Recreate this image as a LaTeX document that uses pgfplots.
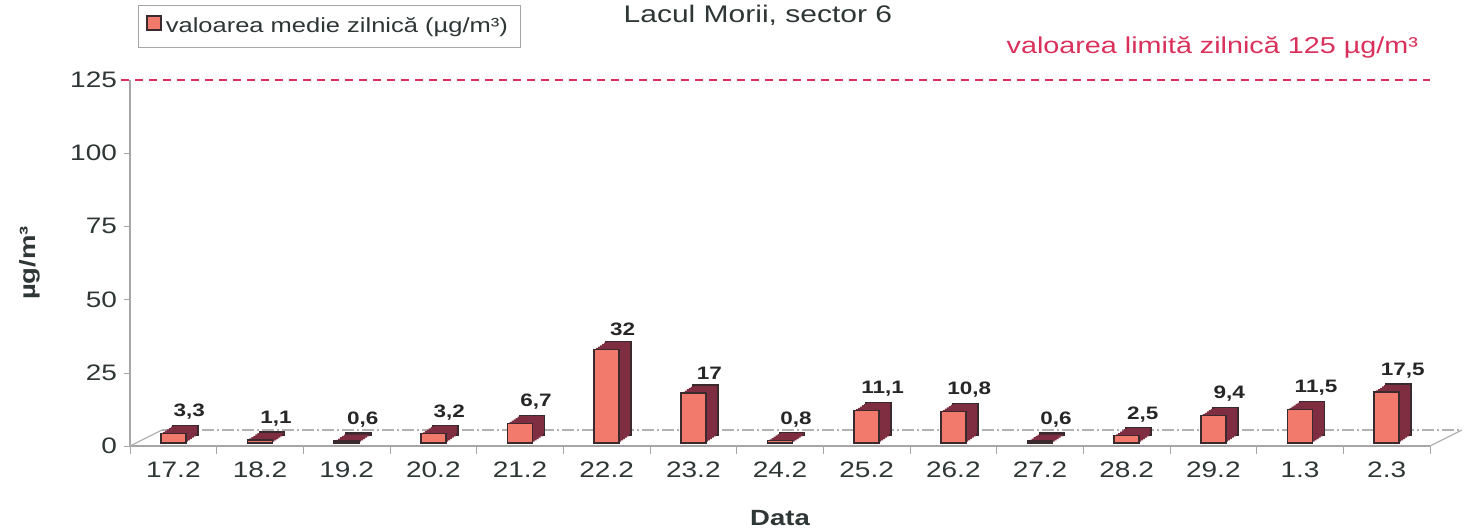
\documentclass[border=0pt]{standalone}
\usepackage{pgfplots}
\usepackage{pgfplotstable}
\pgfplotsset{compat=1.18}
\usepackage{fontspec}
\setmainfont{Liberation Sans}[FakeStretch=1.25]
\definecolor{barfront}{HTML}{F27A6C}
\definecolor{barside}{HTML}{7E2E40}
\definecolor{baredge}{HTML}{3A2A2E}
\definecolor{txt}{HTML}{2E3636}
\definecolor{limred}{HTML}{D9315B}
\pgfplotstableread{
x val
0 3.3
1 1.1
2 0.6
3 3.2
4 6.7
5 32
6 17
7 0.8
8 11.1
9 10.8
10 0.6
11 2.5
12 9.4
13 11.5
14 17.5
}\pmdata
\begin{document}
\begin{tikzpicture}
\useasboundingbox (-65pt,-42.5pt) rectangle (668.5pt,223pt);
\begin{axis}[
    scale only axis, width=650pt, height=183pt,
    at={(0,0)}, anchor=south west,
    xmin=-0.5, xmax=14.5, ymin=0, ymax=125,
    axis lines*=left, axis line style={gray!70, line width=0.8pt},
    clip=false,
    bar width=12.5pt,
    ytick={0,25,...,125},
    xtick={0,...,14},
    xticklabels={17.2,18.2,19.2,20.2,21.2,22.2,23.2,24.2,25.2,26.2,27.2,28.2,29.2,1.3,2.3},
    minor xtick={-0.5,0.5,...,14.5},
    tick align=outside, major tick length=3pt, minor tick length=4pt,
    x tick style={draw=none}, minor x tick style={draw=gray!70},
    y tick style={gray!70},
    tick label style={font=\fontsize{11.2}{13}\selectfont, text=txt},
    xticklabel style={yshift=-1.5pt},
    /pgf/number format/assume math mode=true,
    xlabel={Data}, ylabel={µg/m³},
    label style={font=\fontsize{11}{13}\selectfont\bfseries, text=txt},
    xlabel style={at={(axis description cs:0.5,0)}, anchor=center, yshift=-36pt},
    ylabel style={at={(axis description cs:0,0.5)}, anchor=center, yshift=50pt},
    legend style={at={(0.006,1)}, anchor=south west, yshift=16pt, draw=gray!70,
        font=\fontsize{10.2}{12}\selectfont, text=txt, inner sep=4pt},
    depth/.style={ybar, fill=barside, draw=none, forget plot},
]
% floor of the 3D box
\draw[gray!60, line width=0.6pt] (axis cs:-0.5,0) -- ([shift={(16pt,8pt)}]axis cs:-0.5,0);
\draw[gray!60, line width=0.6pt, dash pattern=on 6pt off 1.5pt on 1pt off 1.5pt] ([shift={(16pt,8pt)}]axis cs:-0.5,0) -- ([shift={(16pt,8pt)}]axis cs:14.5,0);
\draw[gray!60, line width=0.6pt] (axis cs:14.5,0) -- ([shift={(16pt,8pt)}]axis cs:14.5,0);
% limit line
\addplot[sharp plot, limred, line width=1.2pt, dash pattern=on 4pt off 3pt, forget plot]
    coordinates {(-0.6,125) (14.5,125)};
% depth of the bars (extruded back to front)
\addplot[depth, bar shift=6pt, yshift=5.5pt, draw=baredge, line width=0.8pt,
    nodes near coords, every node near coord/.append style={font=\fontsize{9}{10}\selectfont\bfseries, text=black!85, inner sep=2.5pt, xshift=8pt},
    /pgf/number format/use comma] table[x=x, y=val] {\pmdata};
\addplot[depth, bar shift=5pt, yshift=4.83pt] table[x=x, y=val] {\pmdata};
\addplot[depth, bar shift=4pt, yshift=4.17pt] table[x=x, y=val] {\pmdata};
\addplot[depth, bar shift=3pt, yshift=3.5pt] table[x=x, y=val] {\pmdata};
\addplot[depth, bar shift=2pt, yshift=2.83pt] table[x=x, y=val] {\pmdata};
\addplot[depth, bar shift=1pt, yshift=2.17pt] table[x=x, y=val] {\pmdata};
% front faces
\addplot[ybar, bar shift=0pt, yshift=1.5pt, fill=barfront, draw=baredge, line width=0.8pt,
    legend image code/.code={\draw[fill=barfront, draw=baredge, line width=1pt] (0cm,-0.11cm) rectangle (0.24cm,0.13cm);}]
    table[x=x, y=val] {\pmdata};
\addlegendentry{valoarea medie zilnică (µg/m³)}
\node[font=\fontsize{12}{14}\selectfont, text=txt] at (rel axis cs:0.483,1) [yshift=32.5pt] {Lacul Morii, sector 6};
\node[font=\fontsize{11.5}{14}\selectfont, text=limred, anchor=base east] at (rel axis cs:1,1) [xshift=-2.5pt, yshift=13pt] {valoarea limită zilnică 125 µg/m³};
\end{axis}
\end{tikzpicture}
\end{document}
